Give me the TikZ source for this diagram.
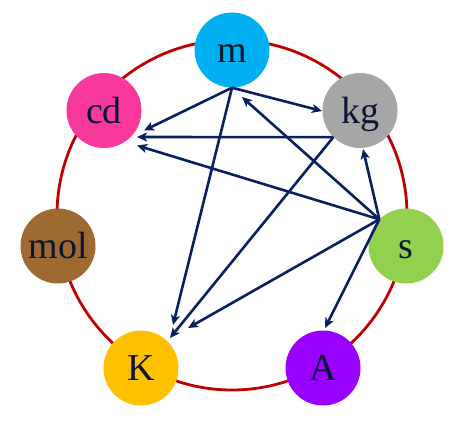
\documentclass[tikz,border=0pt]{standalone}
\usepackage{fontspec}
\setmainfont{Liberation Serif}
\usetikzlibrary{arrows.meta,calc}
\definecolor{cM}{HTML}{00B0F0}
\definecolor{cKG}{HTML}{A6A6A6}
\definecolor{cS}{HTML}{92D050}
\definecolor{cA}{HTML}{9900FF}
\definecolor{cK}{HTML}{FFC000}
\definecolor{cMOL}{HTML}{9E6A32}
\definecolor{cCD}{HTML}{F8389A}
\definecolor{ring}{HTML}{C00000}
\definecolor{navy}{HTML}{082060}
\definecolor{txt}{HTML}{0C1634}
\begin{document}
\begin{tikzpicture}[x=1pt,y=-1pt,
  unit/.style={circle, minimum size=75pt, inner sep=0pt,
    font=\fontsize{38}{40}\selectfont, text=txt,
    text height=27.5pt, text depth=2.5pt},
  ringline/.style={draw=ring, line width=2.8pt},
  arr/.style={draw=navy, line width=2.6pt,
    -{Stealth[length=10pt,width=9pt,inset=2.5pt]}}]
\useasboundingbox (0,0) rectangle (460,424);
\draw[ringline] (232,215) circle[radius=175];
\node[unit, fill=cM]   (m)   at (232,50)  {m};
\node[unit, fill=cKG]  (kg)  at (360,110.5) {kg};
\node[unit, fill=cS]   (s)   at (406,246) {s};
\node[unit, fill=cA]   (A)   at (323,368) {A};
\node[unit, fill=cK]   (K)   at (141,368) {K};
\node[unit, fill=cMOL] (mol) at (58,246)  {mol};
\node[unit, fill=cCD]  (cd)  at (104,110.5) {cd};
% arrows from m
\draw[arr] (m.south) -- ($(cd)+(40,20)$);
\draw[arr] (m.south) -- ($(kg)+(-38,0.5)$);
\draw[arr] (m.south) -- ($(K)+(32,-43)$);
% arrows from kg
\draw[arr] (kg.225) -- ($(cd)+(33,26.5)$);
\draw[arr] (kg.225) -- ($(K)+(29,-30)$);
% arrows from s
\draw[arr] (s.135) -- ($(m)+(10,47)$);
\draw[arr] (s.135) -- ($(cd)+(33,35)$);
\draw[arr] (s.135) -- ($(kg)+(3,38.5)$);
\draw[arr] (s.135) -- ($(K)+(47,-40)$);
\draw[arr] (s.135) -- ($(A)+(2,-40)$);
\end{tikzpicture}
\end{document}
